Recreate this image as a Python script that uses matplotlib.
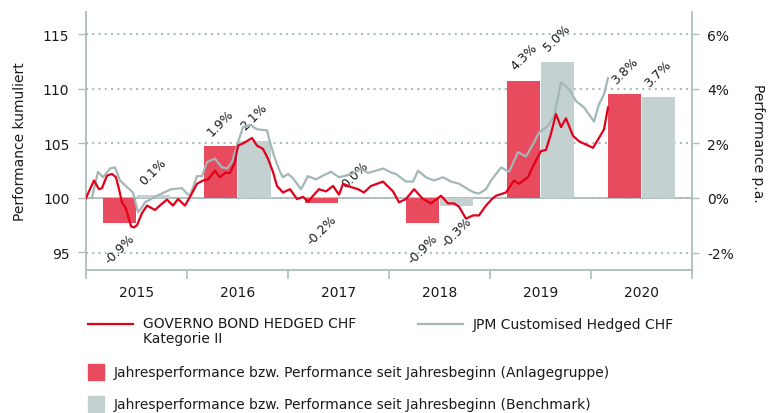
import matplotlib
matplotlib.use('Agg')
import matplotlib.pyplot as plt
from matplotlib.lines import Line2D
from matplotlib.patches import Rectangle
import numpy as np

# Jahresperformance (in %)
years = [2015, 2016, 2017, 2018, 2019, 2020]
fund_pa = [-0.9, 1.9, -0.2, -0.9, 4.3, 3.8]
bench_pa = [0.1, 2.1, 0.0, -0.3, 5.0, 3.7]

# kumulierte Performance (Index 100), Zeit als Dezimaljahr
fund_t = [2015.000, 2015.079, 2015.129, 2015.158, 2015.208, 2015.257, 2015.297, 2015.327,
          2015.356, 2015.396, 2015.446, 2015.475, 2015.505, 2015.554, 2015.604, 2015.683,
          2015.743, 2015.802, 2015.861, 2015.911, 2015.980, 2016.030, 2016.099, 2016.158,
          2016.208, 2016.277, 2016.327, 2016.376, 2016.426, 2016.475, 2016.505, 2016.554,
          2016.644, 2016.693, 2016.752, 2016.802, 2016.851, 2016.891, 2016.950, 2017.020,
          2017.089, 2017.149, 2017.198, 2017.248, 2017.307, 2017.376, 2017.446, 2017.505,
          2017.545, 2017.624, 2017.693, 2017.752, 2017.822, 2017.941, 2018.040, 2018.099,
          2018.168, 2018.248, 2018.337, 2018.416, 2018.515, 2018.584, 2018.644, 2018.693,
          2018.762, 2018.832, 2018.891, 2018.960, 2019.020, 2019.059, 2019.158, 2019.238,
          2019.287, 2019.376, 2019.436, 2019.505, 2019.554, 2019.604, 2019.653, 2019.703,
          2019.752, 2019.822, 2019.881, 2019.950, 2020.020, 2020.079, 2020.129, 2020.168]
fund_v = [100.0, 101.6, 100.8, 100.9, 102.05, 102.2, 101.9, 100.8,
          99.6, 99.0, 97.4, 97.3, 97.5, 98.6, 99.3, 98.9,
          99.4, 99.85, 99.3, 99.9, 99.3, 100.1, 101.3, 101.6,
          101.7, 102.5, 101.9, 102.3, 102.3, 103.3, 104.8, 105.0,
          105.5, 104.8, 104.5, 103.6, 102.4, 101.1, 100.5, 100.8,
          99.9, 100.1, 99.66, 100.2, 100.8, 100.6, 101.1, 100.3,
          101.3, 101.0, 100.8, 100.5, 101.1, 101.5, 100.6, 99.6,
          99.9, 100.8, 99.9, 99.5, 100.2, 99.5, 99.5, 99.2,
          98.1, 98.4, 98.4, 99.3, 99.9, 100.2, 100.5, 101.6,
          101.3, 101.9, 103.1, 104.3, 104.4, 105.9, 107.7, 106.5,
          107.3, 105.7, 105.2, 104.9, 104.6, 105.5, 106.3, 108.3]

bench_t = [2015.000, 2015.059, 2015.119, 2015.168, 2015.238, 2015.287, 2015.337, 2015.406,
           2015.465, 2015.515, 2015.545, 2015.584, 2015.644, 2015.703, 2015.772, 2015.842,
           2015.950, 2016.000, 2016.030, 2016.099, 2016.149, 2016.198, 2016.277, 2016.347,
           2016.396, 2016.446, 2016.505, 2016.554, 2016.624, 2016.693, 2016.792, 2016.822,
           2016.871, 2016.921, 2016.950, 2017.000, 2017.050, 2017.129, 2017.198, 2017.277,
           2017.356, 2017.426, 2017.505, 2017.594, 2017.653, 2017.723, 2017.792, 2017.871,
           2017.941, 2018.030, 2018.069, 2018.168, 2018.238, 2018.287, 2018.366, 2018.446,
           2018.535, 2018.614, 2018.693, 2018.782, 2018.842, 2018.891, 2018.960, 2019.010,
           2019.109, 2019.188, 2019.277, 2019.356, 2019.436, 2019.485, 2019.574, 2019.634,
           2019.703, 2019.782, 2019.851, 2019.931, 2020.030, 2020.079, 2020.129, 2020.168]
bench_v = [100.0, 100.0, 102.4, 101.9, 102.7, 102.8, 101.6, 101.0,
           100.5, 98.7, 99.0, 99.6, 99.9, 100.2, 100.5, 100.8,
           100.9, 100.4, 100.2, 102.0, 102.0, 103.3, 103.6, 102.8,
           102.7, 103.3, 105.1, 106.5, 106.7, 106.3, 106.2, 105.1,
           103.6, 102.4, 101.9, 102.2, 101.8, 100.8, 102.0, 101.7,
           102.1, 102.4, 101.9, 102.1, 102.3, 102.7, 102.3, 102.5,
           102.7, 102.3, 102.2, 101.5, 101.5, 102.5, 101.9, 101.6,
           101.9, 101.5, 101.3, 100.8, 100.5, 100.4, 100.8, 101.6,
           102.8, 102.4, 104.2, 103.8, 105.1, 106.0, 106.6, 107.5,
           110.6, 110.0, 108.9, 108.3, 107.0, 108.6, 109.5, 111.0]

left_ticks = [95, 100, 105, 110, 115]
right_ticks = [-2, 0, 2, 4, 6]

RED_LINE = '#e2001a'
RED_BAR = '#e84b5e'
GREY_LINE = '#a4b7b7'
GREY_BAR = '#c3d1d1'
AXIS_GREY = '#aabdbd'
TXT = '#1a1a1a'

plt.rcParams['font.family'] = ['DejaVu Sans']
plt.rcParams['font.size'] = 10

W, H = 776, 414
fig = plt.figure(figsize=(W / 100, H / 100), dpi=100)

def fx(px):
    return px / W

def fy(py):
    return 1 - py / H

ax = fig.add_axes([fx(86), fy(271), (692 - 86) / W, (271 - 13) / H])
ax2 = ax.twinx()
ax.set_zorder(2)
ax2.set_zorder(1)
ax.patch.set_visible(False)

# Balken (rechte Achse, %)
yrs = np.array(years)
ax2.bar(yrs + 1 / 3, fund_pa, width=1 / 3, color=RED_BAR, zorder=2)
ax2.bar(yrs + 2 / 3, bench_pa, width=1 / 3, color=GREY_BAR, zorder=2)
for x, v in list(zip(yrs + 1 / 3, fund_pa)) + list(zip(yrs + 2 / 3, bench_pa)):
    up = v >= 0
    ax2.annotate(f'{v:.1f}%', (x, v), xytext=(0, 6 if up else -6),
                 textcoords='offset points', rotation=45, ha='center',
                 va='bottom' if up else 'top', fontsize=9, color=TXT, zorder=3)

ax2.set_ylim(-2.64, 6.82)
ax2.set_yticks(right_ticks)
ax2.set_yticklabels([f'{t}%' for t in right_ticks])
ax2.yaxis.grid(True, linestyle=(0, (1, 2)), color=AXIS_GREY, linewidth=1.5, zorder=0)
ax2.set_axisbelow(True)
ax2.axhline(0, color=AXIS_GREY, linewidth=1.3, zorder=1)
ax2.tick_params(axis='y', length=5, width=1, color=AXIS_GREY, pad=6, labelsize=10, labelcolor=TXT)

# Linien (linke Achse, Index)
ax.plot(bench_t, bench_v, color=GREY_LINE, linewidth=1.6, zorder=3)
ax.plot(fund_t, fund_v, color=RED_LINE, linewidth=1.6, zorder=4)
ax.set_ylim(93.39, 117.06)
ax.set_yticks(left_ticks)
ax.tick_params(axis='y', length=6, width=1, color=AXIS_GREY, pad=6, labelsize=10, labelcolor=TXT)

ax.set_xlim(2015, 2021)
ax.set_xticks(range(2015, 2022))
ax.set_xticklabels([])
ax.set_xticks(yrs + 0.5, minor=True)
ax.set_xticklabels([str(y) for y in years], minor=True)
ax.tick_params(axis='x', which='major', length=6.5, width=1.2, color=AXIS_GREY, direction='out')
ax.tick_params(axis='x', which='minor', length=0, pad=11, labelsize=10, labelcolor=TXT)

for a in (ax, ax2):
    for s in a.spines.values():
        s.set_visible(False)
for side in ('left', 'bottom'):
    ax.spines[side].set_visible(True)
    ax.spines[side].set_color(AXIS_GREY)
    ax.spines[side].set_linewidth(1.3)
ax2.spines['right'].set_visible(True)
ax2.spines['right'].set_color(AXIS_GREY)
ax2.spines['right'].set_linewidth(1.3)

fig.text(fx(20), fy(142), 'Performance kumuliert', rotation=90, ha='center', va='center',
         fontsize=10, color=TXT)
fig.text(fx(758), fy(143), 'Performance p.a.', rotation=270, ha='center', va='center',
         fontsize=10, color=TXT)

# Legende
fig.add_artist(Line2D([fx(88), fx(133)], [fy(325), fy(325)], color=RED_LINE, lw=1.6,
                      transform=fig.transFigure))
fig.text(fx(143), fy(317), 'GOVERNO BOND HEDGED CHF\nKategorie II', ha='left', va='top',
         fontsize=10, color=TXT, linespacing=1.1)
fig.add_artist(Line2D([fx(418), fx(463)], [fy(325), fy(325)], color=GREY_LINE, lw=1.6,
                      transform=fig.transFigure))
fig.text(fx(473), fy(325), 'JPM Customised Hedged CHF', ha='left', va='center',
         fontsize=10, color=TXT)
fig.add_artist(Rectangle((fx(88), fy(381)), 16 / W, 16 / H, color=RED_BAR,
                         transform=fig.transFigure))
fig.text(fx(114), fy(373), 'Jahresperformance bzw. Performance seit Jahresbeginn (Anlagegruppe)',
         ha='left', va='center', fontsize=10, color=TXT)
fig.add_artist(Rectangle((fx(88), fy(413)), 16 / W, 16 / H, color=GREY_BAR,
                         transform=fig.transFigure))
fig.text(fx(114), fy(405), 'Jahresperformance bzw. Performance seit Jahresbeginn (Benchmark)',
         ha='left', va='center', fontsize=10, color=TXT)

fig.savefig('out.png', dpi=100)
